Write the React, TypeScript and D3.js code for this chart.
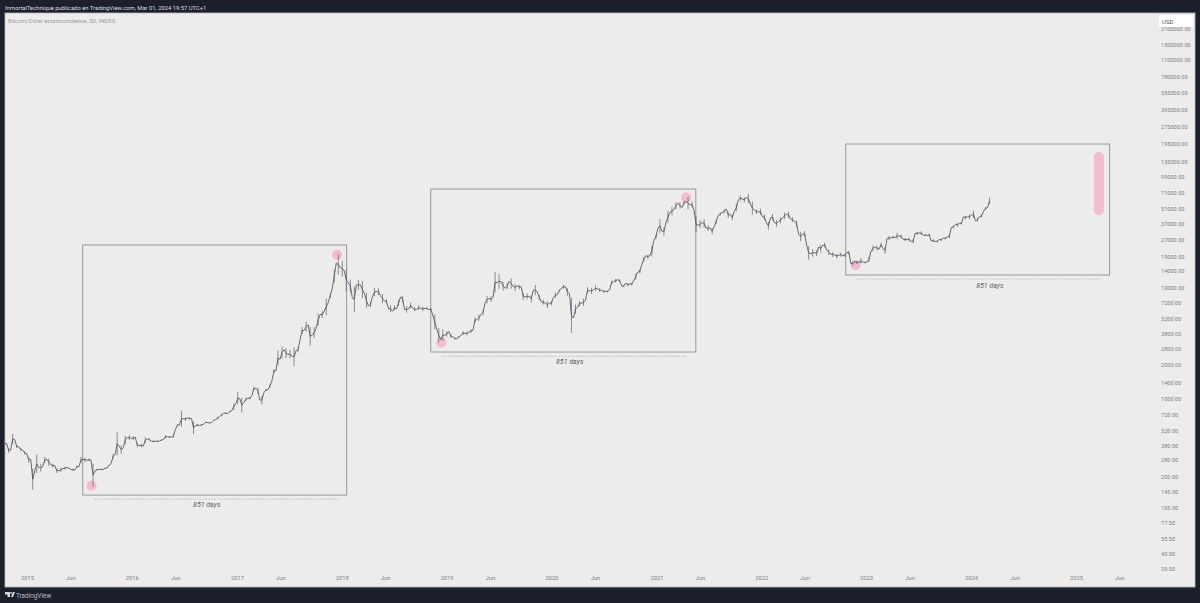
import * as d3 from "d3";
import { useEffect, useRef } from "react";

const W = 1200;
const H = 603;

// one row per year, one value every 14 days, starting at firstBar
const firstBar = new Date(2014, 9, 15);
const lows = [
  375, 325, 390, 360, 340, 315,
  265, 152, 215, 220, 265, 250, 240, 215, 220, 230, 235, 225, 240, 265, 270, 275, 162, 225, 228, 235, 250, 290, 310, 320, 390, 425,
  425, 365, 365, 400, 420, 405, 410, 420, 440, 445, 445, 570, 560, 630, 650, 480, 565, 570, 605, 600, 630, 650, 700, 730, 755, 790,
  890, 750, 950, 985, 1180, 1100, 890, 1170, 1260, 1700, 2000, 2300, 2300, 2300, 1950, 2600, 3800, 4000, 3000, 3500, 4500, 5300, 5600, 8000, 11000, 13000,
  12500, 9200, 9000, 6000, 9500, 8000, 6500, 6600, 8300, 8500, 7200, 7200, 6000, 6200, 6800, 7300, 5900, 6500, 6100, 6200, 6100, 6300, 6300, 4200, 3200, 3300,
  3600, 3500, 3400, 3500, 3700, 3700, 3900, 4800, 5000, 5600, 7200, 7400, 9000, 9700, 9300, 9600, 9700, 9300, 9600, 7700, 7800, 7300, 8500, 7700, 7000, 6500,
  6900, 8000, 9100, 9700, 8400, 3900, 5800, 6800, 6800, 8800, 8700, 9200, 9100, 8900, 9000, 10600, 11000, 11100, 10000, 10200, 10400, 11700, 13300, 17000, 18000, 19000,
  27000, 31000, 29000, 38000, 44000, 50000, 51000, 55000, 50000, 52000, 31000, 34000, 34500, 32000, 30000, 37000, 44000, 46000, 42000, 40000, 48000, 60000, 58000, 57000, 45000, 45500,
  45000, 40000, 33000, 40000, 35000, 37500, 41000, 42000, 38500, 34500, 26000, 28500, 17700, 18800, 19000, 20500, 22800, 19500, 18700, 18200, 18800, 18700, 19800, 15700, 16200, 16300,
  16400, 16800, 21000, 21500, 23000, 20000, 26500, 27500, 27000, 27500, 26000, 25800, 24800, 29500, 29500, 29000, 29000, 25400, 25300, 26000, 26800, 27500, 33800, 35000, 36500, 40500,
  41000, 42000, 39000, 42500, 49500, 56000,
];
const highs = [
  410, 360, 480, 385, 360, 335,
  300, 235, 315, 260, 300, 290, 260, 235, 240, 245, 240, 235, 250, 300, 295, 290, 260, 235, 235, 240, 255, 320, 500, 380, 465, 470,
  460, 400, 395, 450, 440, 420, 420, 430, 470, 460, 480, 590, 780, 680, 680, 620, 590, 590, 620, 610, 645, 690, 730, 750, 775, 900,
  1150, 1020, 1020, 1030, 1280, 1260, 1060, 1220, 1340, 1850, 2700, 2950, 2850, 2750, 2900, 2900, 4400, 4900, 4400, 4400, 5800, 6100, 7900, 8800, 14500, 19700,
  17200, 14500, 11700, 10200, 11700, 11400, 8900, 7400, 9900, 9800, 8700, 7800, 6900, 6900, 7700, 8400, 6800, 7300, 6600, 6900, 6700, 6600, 6550, 5700, 4300, 4200,
  4050, 3800, 3550, 3650, 4050, 4000, 4200, 5400, 5700, 6300, 8400, 8300, 13800, 13200, 11200, 10900, 12000, 10700, 10500, 8900, 8800, 8500, 10500, 8500, 7700, 7500,
  7500, 9000, 9600, 10500, 9800, 8000, 7000, 7500, 7900, 10000, 9900, 10400, 9800, 9400, 9400, 11500, 11900, 11800, 10500, 10900, 11000, 13300, 14500, 18800, 19600, 23500,
  29500, 41000, 34500, 48500, 53000, 58000, 58000, 60000, 64800, 59000, 43500, 40000, 41000, 36000, 34000, 41000, 47000, 50000, 47500, 45000, 56000, 67000, 64500, 69000, 59000, 50000,
  51000, 45000, 38500, 45500, 40000, 42500, 47000, 47800, 42500, 40000, 31500, 32000, 23500, 22000, 21500, 24200, 25200, 22000, 20800, 20000, 20500, 20000, 21300, 17200, 17300, 18300,
  17000, 18800, 23800, 23600, 25200, 23000, 28900, 29000, 30800, 29800, 27700, 28000, 27000, 31400, 31800, 30000, 30200, 27000, 26400, 27400, 28300, 30000, 35800, 38000, 38500, 44000,
  45000, 48700, 42000, 45000, 52800, 64000,
];
// closes a week after each of the bars above
const weekLater = [
  395, 345, 430, 370, 345, 320,
  285, 225, 240, 245, 285, 255, 250, 225, 235, 240, 230, 228, 245, 285, 280, 280, 225, 232, 230, 238, 262, 315, 375, 360, 445, 440,
  450, 380, 375, 435, 415, 415, 415, 428, 455, 450, 530, 580, 660, 670, 660, 575, 575, 590, 610, 610, 650, 690, 740, 735, 780, 900,
  1000, 920, 1010, 1060, 1240, 970, 1130, 1200, 1450, 1780, 2250, 2750, 2500, 2400, 2700, 3400, 4100, 4600, 3700, 4300, 5700, 6100, 7300, 9800, 16500, 15000,
  14000, 11000, 8000, 10500, 10500, 8800, 6800, 8200, 9200, 8400, 7500, 6400, 6100, 6400, 8200, 6300, 6400, 6500, 6350, 6500, 6450, 6300, 5600, 4200, 3400, 3700,
  4000, 3600, 3450, 3700, 3850, 3950, 4100, 5100, 5700, 7200, 7900, 8100, 11000, 11200, 9800, 11300, 10200, 10300, 10100, 8200, 8300, 9400, 9100, 7400, 7200, 7200,
  8100, 8600, 9800, 10100, 8800, 5300, 6600, 7200, 7700, 9300, 9500, 9700, 9400, 9200, 9500, 11300, 11700, 10300, 10900, 10700, 11500, 13700, 16000, 19200, 19300, 26500,
  34000, 32000, 38000, 47000, 50000, 57000, 52000, 59000, 55000, 49000, 36000, 38000, 34000, 34000, 35000, 44000, 47000, 50500, 45000, 48000, 61000, 62000, 64000, 56000, 49500, 47500,
  43000, 38000, 42000, 38000, 39000, 42000, 45500, 41000, 39000, 30000, 30000, 24000, 20000, 20500, 23000, 23800, 21500, 19800, 19500, 19400, 19200, 20600, 16300, 17000, 16800, 16900,
  16800, 21000, 23000, 22000, 22200, 27500, 27800, 28000, 29000, 27000, 26800, 25800, 30500, 30800, 29300, 29200, 26100, 25800, 26900, 27600, 28400, 34500, 36500, 37500, 43000, 43000,
  44500, 39500, 43000, 48000, 52000,
];

const priceTicks = [
  2100000, 1500000, 1100000, 780000, 555000, 395000, 275000, 195000, 135000, 99000, 71000, 51000,
  37000, 27000, 19000, 14000, 10000, 7200, 5200, 3800, 2800, 2000, 1400, 1000, 720, 520, 380, 280,
  200, 145, 105, 77.5, 55.5, 40.5, 29.5,
];
const years = [2015, 2016, 2017, 2018, 2019, 2020, 2021, 2022, 2023, 2024, 2025];

// [start, end, top price, bottom price]
const boxes: [Date, Date, number, number][] = [
  [new Date(2015, 6, 14), new Date(2018, 0, 18), 24000, 136],
  [new Date(2018, 10, 7), new Date(2021, 4, 18), 76300, 2622],
  [new Date(2022, 9, 22), new Date(2025, 3, 28), 193500, 12890],
];
// cycle bottom -> 851 days later, and the price the dashed line sits at
const measureStarts = [new Date(2015, 7, 24), new Date(2018, 11, 15), new Date(2022, 10, 29)];
const measurePrices = [125, 2400, 11850];
const labelDates = [new Date(2016, 8, 18), new Date(2020, 2, 5), new Date(2024, 2, 7)];
const labelPrices = [106, 2047, 9860];
const measureDays = 851;
const circleDates = [
  new Date(2015, 7, 14), new Date(2017, 11, 16), new Date(2018, 11, 14), new Date(2021, 3, 14), new Date(2022, 10, 26),
];
const circlePrices = [165, 19600, 3200, 64000, 15800];
const targetDate = new Date(2025, 2, 22);
const targetPrices = [148000, 49300];

const x = d3
  .scaleTime()
  .domain([new Date(2015, 0, 1), new Date(2025, 0, 1)])
  .range([27, 1076]);
const y = d3.scaleLog().domain([29.5, 1500000]).range([569, 45]);

const barDates = lows.map((_, i) => d3.timeDay.offset(firstBar, i * 14));

// path goes bar -> week later -> next bar
const pathPoints: [Date, number][] = lows.flatMap((l, i) => {
  const pts: [Date, number][] = [[barDates[i], Math.sqrt(l * highs[i])]];
  if (i < weekLater.length) pts.push([d3.timeDay.offset(barDates[i], 7), weekLater[i]]);
  return pts;
});
const priceLine = d3
  .line<[Date, number]>()
  .x((d) => x(d[0]))
  .y((d) => y(d[1]));

const PINK = "#f1bcd0";
const BOX = "#9797a2";
const FONT = "Roboto, 'Liberation Sans', sans-serif";

export default function App() {
  const yAxisRef = useRef<SVGGElement | null>(null);
  const xAxisRef = useRef<SVGGElement | null>(null);

  useEffect(() => {
    const yAxis = d3
      .axisRight(y)
      .tickValues(priceTicks)
      .tickSize(0)
      .tickPadding(0)
      .tickFormat((d) => d3.format(".2f")(d as number));
    const ya = d3.select(yAxisRef.current!).call(yAxis);
    ya.select(".domain").remove();
    ya.selectAll("text").attr("fill", "#7c7e8a").attr("font-size", 5.6).attr("font-family", FONT);

    const xTicks = years.flatMap((yr) => [new Date(yr, 0, 1), new Date(yr, 5, 1)]);
    const xAxis = d3
      .axisBottom(x)
      .tickValues(xTicks)
      .tickSize(0)
      .tickPadding(0)
      .tickFormat((d) => ((d as Date).getMonth() === 0 ? d3.timeFormat("%Y")(d as Date) : "Jun"));
    const xa = d3.select(xAxisRef.current!).call(xAxis);
    xa.select(".domain").remove();
    xa.selectAll("text").attr("fill", "#7c7e8a").attr("font-size", 5.8).attr("font-family", FONT);
  }, []);

  return (
    <svg
      width={W}
      height={H}
      style={{ position: "absolute", left: 0, top: 0, display: "block" }}
      fontFamily={FONT}
    >
      <defs>
        <filter id="soft" x="-2%" y="-2%" width="104%" height="104%">
          <feGaussianBlur stdDeviation={0.3} />
        </filter>
      </defs>
      <rect width={W} height={H} fill="#1c202c" />
      <rect x={5} y={13} width={1190} height={574} fill="#edecea" stroke="#b9bac0" strokeWidth={0.8} />

      {circleDates.map((d, i) => (
        <circle key={i} cx={x(d)} cy={y(circlePrices[i])} r={5} fill={PINK} />
      ))}
      <line
        x1={x(targetDate)}
        x2={x(targetDate)}
        y1={y(targetPrices[0])}
        y2={y(targetPrices[1])}
        stroke={PINK}
        strokeWidth={10}
        strokeLinecap="round"
      />

      {boxes.map(([a, b, top, bottom], i) => (
        <rect
          key={i}
          x={x(a)}
          y={y(top)}
          width={x(b) - x(a)}
          height={y(bottom) - y(top)}
          fill="none"
          stroke={BOX}
          strokeWidth={1}
        />
      ))}

      <g filter="url(#soft)">
        <g stroke="#666976" strokeWidth={0.9} strokeOpacity={0.85}>
          {barDates.map((d, i) => (
            <line key={i} x1={x(d)} x2={x(d)} y1={y(highs[i])} y2={y(lows[i])} />
          ))}
        </g>
        <path d={priceLine(pathPoints)!} fill="none" stroke="#565965" strokeWidth={0.9} />
      </g>

      {measureStarts.map((d, i) => (
        <line
          key={i}
          x1={x(d)}
          x2={x(d3.timeDay.offset(d, measureDays))}
          y1={y(measurePrices[i])}
          y2={y(measurePrices[i])}
          stroke="#a9a9b0"
          strokeWidth={0.7}
          strokeDasharray="1.6 1.4"
        />
      ))}
      {labelDates.map((d, i) => (
        <text
          key={i}
          x={x(d)}
          y={y(labelPrices[i])}
          textAnchor="middle"
          fontSize={7}
          fontStyle="italic"
          fill="#5a5c66"
        >
          {measureDays} days
        </text>
      ))}

      <g ref={yAxisRef} transform="translate(1161,0)" />
      <g ref={xAxisRef} transform="translate(0,576)" />

      <rect x={1159} y={15} width={34} height={12} fill="#ffffff" />
      <text x={1162} y={23.5} fontSize={6} fill="#4a4d58">USD</text>

      <text x={5} y={9.5} fontSize={5.85} fill="#dcdde0">
        InmortalTechnique publicado en TradingView.com, Mar 01, 2024 19:57 UTC+1
      </text>
      <text x={8} y={22.5} fontSize={5.95} fill="#9a9ca4">
        Bitcoin/Dólar estadounidense, 3D, INDEX
      </text>

      <path d="M5 592h5v5h-2.5v-2.5H5z M11 597l2-5h2l-2 5z" fill="#d8d9dc" />
      <circle cx={11.2} cy={593} r={0.9} fill="#d8d9dc" />
      <text x={16} y={597.5} fontSize={6.4} fill="#b9bac0">TradingView</text>
    </svg>
  );
}
